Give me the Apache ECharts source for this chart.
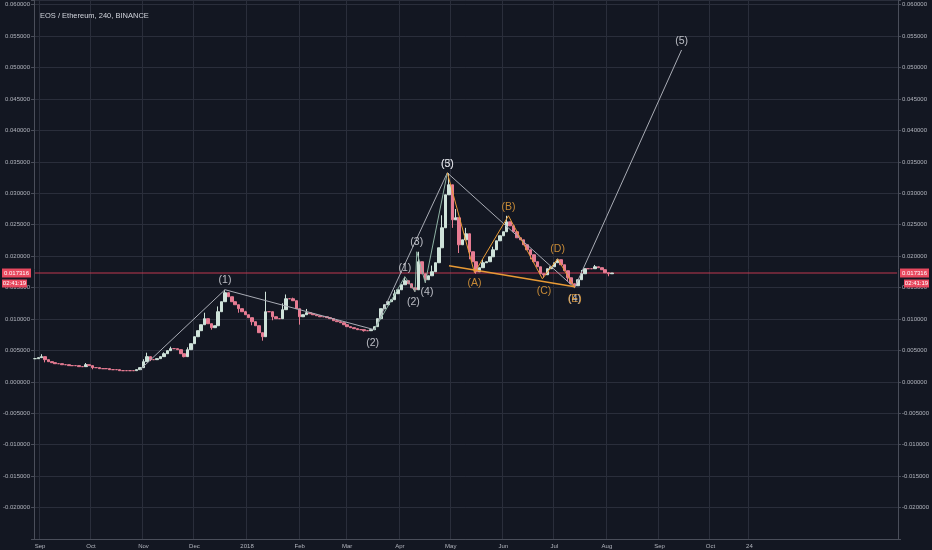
<!DOCTYPE html>
<html><head><meta charset="utf-8">
<script src="https://cdn.jsdelivr.net/npm/echarts@6/dist/echarts.min.js"></script>
<style>html,body{margin:0;padding:0;background:#131722;}#c{width:932px;height:550px;}</style>
</head><body><div id="c"></div>
<script>
// ---- data ----
const startYear = 2017, startMonth = 7, startDay = 29; // 2017-08-29
const dayCount = 509;
const candleStep = 2; // one candle every 2 days
const closes = [
0.00369,0.00385,0.00401,0.00353,0.00321,0.00305,0.00289,0.00289,0.00273,0.00273,
0.00258,0.00258,0.00258,0.00242,0.00242,0.00273,0.00258,0.00226,0.00226,0.00210,
0.00210,0.00210,0.00194,0.00194,0.00194,0.00178,0.00178,0.00178,0.00178,0.00178,
0.00194,0.00226,0.00321,0.00401,0.00353,0.00353,0.00369,0.00401,0.00448,0.00496,
0.00528,0.00528,0.00512,0.00448,0.00401,0.00512,0.00607,0.00718,0.00814,0.00909,
0.01005,0.00925,0.00862,0.00893,0.01116,0.01275,0.01418,0.01354,0.01275,0.01227,
0.01164,0.01116,0.01068,0.01021,0.00957,0.00893,0.00782,0.00718,0.01116,0.01116,
0.01036,0.01005,0.01005,0.01148,0.01322,0.01322,0.01291,0.01164,0.01036,0.01068,
0.01100,0.01084,0.01068,0.01052,0.01036,0.01036,0.01021,0.01005,0.00973,0.00957,
0.00941,0.00909,0.00878,0.00862,0.00846,0.00830,0.00830,0.00814,0.00814,0.00830,
0.00878,0.01005,0.01164,0.01227,0.01275,0.01307,0.01402,0.01465,0.01545,0.01609,
0.01561,0.01497,0.01465,0.01911,0.01720,0.01625,0.01688,0.01752,0.01895,0.02133,
0.02451,0.02976,0.03135,0.02578,0.02610,0.02181,0.02260,0.02356,0.02070,0.01911,
0.01752,0.01816,0.01895,0.01911,0.01990,0.02101,0.02244,0.02324,0.02388,0.02546,
0.02483,0.02388,0.02292,0.02260,0.02181,0.02101,0.02022,0.01911,0.01831,0.01720,
0.01704,0.01800,0.01831,0.01895,0.01943,0.01863,0.01768,0.01656,0.01561,0.01529,
0.01625,0.01720,0.01800,0.01800,0.01800,0.01831,0.01816,0.01784,0.01736,0.01720,
0.01732
];
const highWicks = [[2,0.0044],[15,0.0030],[32,0.0036],[33,0.00464],[38,0.0047],[40,0.0056],[45,0.0055],
[50,0.0110],[54,0.0120],[56,0.01465],[58,0.0135],[62,0.0113],[68,0.01434],[73,0.0125],[74,0.0139],
[76,0.0134],[80,0.0116],[106,0.0146],[109,0.01672],[113,0.02070],[117,0.0185],[120,0.0265],[122,0.03322],
[124,0.0275],[127,0.0245],[132,0.0195],[135,0.0215],[139,0.02642],[142,0.0240],[147,0.0198],[154,0.01959],
[161,0.0178],[165,0.0186]];
const lowWicks = [[3,0.0031],[17,0.0020],[34,0.0033],[44,0.0039],[52,0.0083],[60,0.0110],[64,0.0090],
[67,0.00655],[70,0.0098],[78,0.0091],[97,0.0080],[103,0.0118],[112,0.01434],[115,0.01577],[123,0.0245],
[125,0.0205],[128,0.0195],[130,0.0172],[137,0.0225],[146,0.0195],[150,0.01656],[157,0.0160],[159,0.01497],[169,0.0168]];
const timeTicks = [['2017-09-01','Sep'],['2017-10-01','Oct'],['2017-11-01','Nov'],['2017-12-01','Dec'],
['2018-01-01','2018'],['2018-02-01','Feb'],['2018-03-01','Mar'],['2018-04-01','Apr'],['2018-05-01','May'],
['2018-06-01','Jun'],['2018-07-01','Jul'],['2018-08-01','Aug'],['2018-09-01','Sep'],['2018-10-01','Oct'],['2018-10-24','24']];
const lastPrice = 0.017316;
const countdown = '02:41:19';
const titleText = 'EOS / Ethereum, 240, BINANCE';
const waveMain = [['2017-10-30',0.00194],['2017-12-19',0.01466],['2018-03-17',0.0083],['2018-04-29',0.03325],['2018-07-13',0.01497],['2018-09-14',0.0528]];
const waveSub = [['2018-03-17',0.0083],['2018-04-04',0.01672],['2018-04-10',0.01434],['2018-04-11',0.0207],['2018-04-16',0.01577],['2018-04-29',0.03325]];
const waveABC = [['2018-04-29',0.03325],['2018-05-15',0.01736],['2018-06-04',0.02642],['2018-06-24',0.0164],['2018-07-03',0.01958],['2018-07-13',0.01497]];
const trendLine = [['2018-04-30',0.01847],['2018-07-13',0.01513]];
const whiteLabels = [['2017-12-19',0.01625,'(1)'],['2018-03-16',0.00623,'(2)'],['2018-04-04',0.01815,'(1)'],
['2018-04-09',0.01275,'(2)'],['2018-04-11',0.02229,'(3)'],['2018-04-17',0.01434,'(4)'],
['2018-04-29',0.03469,'(3)'],['2018-04-29',0.03469,'(5)'],['2018-07-13',0.01323,'(4)'],['2018-09-14',0.05424,'(5)']];
const orangeLabels = [['2018-05-15',0.01577,'(A)'],['2018-06-04',0.02785,'(B)'],['2018-06-25',0.0145,'(C)'],
['2018-07-03',0.02117,'(D)'],['2018-07-13',0.01323,'(E)']];

// ---- build ----
const categories = [];
for (let i = 0; i < dayCount; i++) {
  categories.push(new Date(Date.UTC(startYear, startMonth, startDay + i)).toISOString().slice(0, 10));
}
const tickMap = new Map(timeTicks);
const hiMap = new Map(highWicks), loMap = new Map(lowWicks);
const candleData = categories.map(() => '-');
closes.forEach((c, k) => {
  const o = k === 0 ? c : closes[k - 1];
  const hi = Math.max(o, c, hiMap.has(k) ? hiMap.get(k) : 0);
  const lo = Math.min(o, c, loMap.has(k) ? loMap.get(k) : 1);
  candleData[k * candleStep] = [o, c, lo, hi];
});
const priceLine = [[categories[0], lastPrice], [categories[categories.length - 1], lastPrice]];
const isTick = (idx, val) => tickMap.has(val);

const FONT = 'Liberation Sans';
const axisLabelStyle = { color: '#b2b5be', fontSize: 6, fontFamily: FONT };
const yFmt = v => {
  const r = Math.round(v / 0.005);
  if (Math.abs(v / 0.005 - r) > 1e-6 || v < -0.0226) return '';
  return (r * 0.005).toFixed(6);
};
const yBase = {
  type: 'value', min: -0.025, max: 0.06075, interval: 0.005,
  axisLine: { show: true, lineStyle: { color: '#4a4e5a' } },
  axisTick: { show: true, length: 3, lineStyle: { color: '#4a4e5a' } },
};

const chart = echarts.init(document.getElementById('c'), null, { renderer: 'canvas' });
chart.setOption({
  backgroundColor: '#131722',
  animation: false,
  title: { text: titleText, left: 35, top: 7, textStyle: { color: '#d1d4dc', fontSize: 7.5, fontWeight: 'normal', fontFamily: FONT } },
  grid: { left: 31, right: 31, top: 0, bottom: 11 },
  xAxis: {
    type: 'category', data: categories, boundaryGap: true,
    axisLine: { onZero: false, lineStyle: { color: '#4a4e5a' } },
    axisTick: { show: false },
    axisLabel: Object.assign({ interval: isTick, formatter: v => tickMap.get(v) || '', margin: 4 }, axisLabelStyle),
    splitLine: { show: true, interval: isTick, lineStyle: { color: '#2a2e3b', width: 1 } }
  },
  yAxis: [
    Object.assign({}, yBase, { position: 'left',
      axisLabel: Object.assign({ formatter: yFmt, margin: 4 }, axisLabelStyle),
      splitLine: { show: true, lineStyle: { color: '#2a2e3b', width: 1 } } }),
    Object.assign({}, yBase, { position: 'right',
      axisLabel: Object.assign({ formatter: yFmt, margin: 4 }, axisLabelStyle),
      splitLine: { show: false } })
  ],
  series: [
    { type: 'line', data: priceLine, symbol: 'none', silent: true, lineStyle: { color: '#c0384f', width: 1 }, itemStyle: { color: '#c0384f' }, z: 1 },
    {
      type: 'candlestick', data: candleData, barWidth: 3,
      itemStyle: { color: '#cfe3da', color0: '#e77c93', borderColor: '#cfe3da', borderColor0: '#e77c93', borderWidth: 1 },
      z: 2
    },
    { type: 'line', data: waveMain, symbol: 'none', lineStyle: { color: '#a9acb5', width: 1 }, z: 5 },
    { type: 'line', data: waveSub, symbol: 'none', lineStyle: { color: '#8fb3a5', width: 1 }, z: 5 },
    { type: 'line', data: waveABC, symbol: 'none', lineStyle: { color: '#e89a35', width: 1 }, z: 5 },
    { type: 'line', data: trendLine, symbol: 'none', lineStyle: { color: '#e89a35', width: 1.5 }, z: 5 },
    { type: 'scatter', data: whiteLabels, symbolSize: 0, z: 6,
      label: { show: true, position: 'inside', formatter: p => p.data[2], color: '#e2e4ea', fontSize: 10.5, fontFamily: FONT } },
    { type: 'scatter', data: orangeLabels, symbolSize: 0, z: 7,
      label: { show: true, position: 'inside', formatter: p => p.data[2], color: '#f2a63c', fontSize: 10.5, fontFamily: FONT } }
  ]
});

const py = chart.convertToPixel({ yAxisIndex: 0 }, lastPrice);
const boxFont = '6px "Liberation Sans"';
const priceColor = '#e8495f';
function box(x, y, w, h, text) {
  return [
    { type: 'rect', shape: { x: x, y: y, width: w, height: h }, style: { fill: priceColor }, z: 100 },
    { type: 'text', x: x + w / 2, y: y + h / 2, style: { text: text, fill: '#ffffff', font: boxFont, align: 'center', verticalAlign: 'middle' }, z: 101 }
  ];
}
chart.setOption({
  graphic: [].concat(
    box(2, py - 4.5, 29, 9, lastPrice.toFixed(6)),
    box(2, py + 6.5, 25, 8, countdown),
    box(900, py - 4.5, 29, 9, lastPrice.toFixed(6)),
    box(904, py + 6.5, 25, 8, countdown)
  )
});
</script></body></html>
